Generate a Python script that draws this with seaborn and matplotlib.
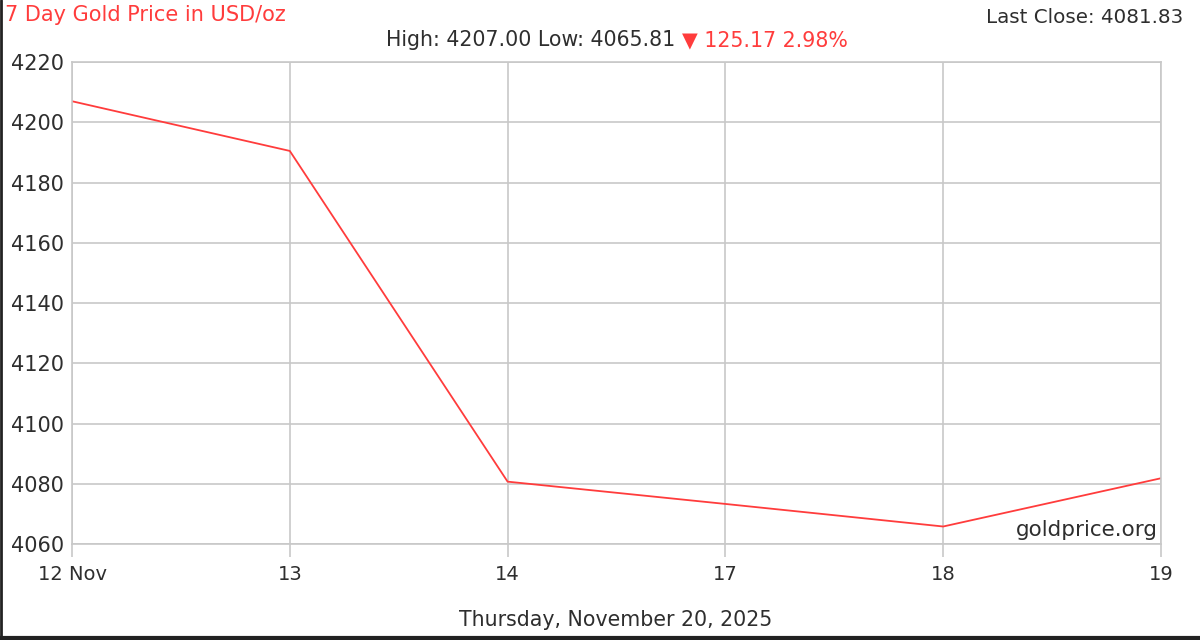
import matplotlib
matplotlib.use("Agg")
import matplotlib.pyplot as plt
import seaborn as sns
import pandas as pd

# ---------------------------------------------------------------------------
# Data
# ---------------------------------------------------------------------------
DAYS   = ["12 Nov", "13", "14", "17", "18", "19"]
PRICES = [4207.00, 4190.5, 4080.7, 4073.3, 4065.81, 4081.83]
Y_TICKS = [4060, 4080, 4100, 4120, 4140, 4160, 4180, 4200, 4220]

TITLE      = "7 Day Gold Price in USD/oz"
HIGH_LOW   = "High: 4207.00 Low: 4065.81 "
CHANGE     = "\u25bc 125.17 2.98%"
LAST_CLOSE = "Last Close: 4081.83"
DATE_STR   = "Thursday, November 20, 2025"
SOURCE     = "goldprice.org"

RED   = "#ff3c3c"
TEXT  = "#2e2e2e"
GRID  = "#c8c8c8"

# ---------------------------------------------------------------------------
# Plot
# ---------------------------------------------------------------------------
sns.set_style("white")
plt.rcParams["font.family"] = ["DejaVu Sans"]

df = pd.DataFrame({"day": DAYS, "price": PRICES})

fig = plt.figure(figsize=(12, 6.4), dpi=100)
ax = fig.add_axes([0.06, 0.15, 0.9075, 0.753])

sns.lineplot(data=df, x="day", y="price", color=RED, linewidth=1.3, ax=ax, sort=False)

ax.set_xlim(0, len(DAYS) - 1)
ax.set_ylim(Y_TICKS[0], Y_TICKS[-1])
ax.set_yticks(Y_TICKS)
ax.set_xticks(range(len(DAYS)))
ax.set_xticklabels(DAYS)
ax.set_xlabel("")
ax.set_ylabel("")

ax.grid(True, color=GRID, linewidth=1.2)
for s in ax.spines.values():
    s.set_color(GRID)
    s.set_linewidth(1.2)

ax.tick_params(axis="x", length=9, width=1.2, color=GRID, pad=6,
               labelsize=14, labelcolor=TEXT, direction="out", bottom=True)
ax.tick_params(axis="y", length=0, pad=6, labelsize=15, labelcolor=TEXT)

ax.text(0.997, 0.008, SOURCE, transform=ax.transAxes, ha="right", va="bottom",
        fontsize=15.5, color=TEXT)

# header / footer texts
fig.text(0.004, 0.977, TITLE, ha="left", va="center", fontsize=15, color=RED)
fig.text(0.986, 0.973, LAST_CLOSE, ha="right", va="center", fontsize=14.3, color=TEXT)
fig.text(0.5685, 0.937, HIGH_LOW, ha="right", va="center", fontsize=14.8, color=TEXT)
fig.text(0.5685, 0.937, CHANGE, ha="left", va="center", fontsize=14.8, color=RED)
fig.text(0.513, 0.031, DATE_STR, ha="center", va="center", fontsize=14.8, color=TEXT)

# thin dark frame on the left and bottom edges
fig.add_artist(plt.Line2D([0.001, 0.001], [0, 1], transform=fig.transFigure,
                          color="#222222", linewidth=2))
fig.add_artist(plt.Line2D([0, 1], [0.003, 0.003], transform=fig.transFigure,
                          color="#222222", linewidth=3))

fig.savefig("out.png", dpi=100)
